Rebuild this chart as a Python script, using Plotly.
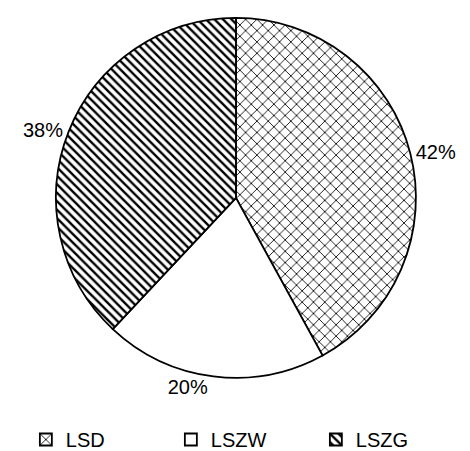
import plotly.graph_objects as go

labels = ["LSD", "LSZW", "LSZG"]
values = [42, 20, 38]
shapes = ["x", "", "\\"]

fig = go.Figure()
fig.add_trace(go.Pie(
    labels=labels, values=values, sort=False, direction="clockwise", rotation=0,
    textposition="outside", texttemplate="%{percent:.0%}",
    textfont=dict(size=20, color="black"),
    marker=dict(colors=["white"] * 3, line=dict(color="black", width=1.8),
                pattern=dict(shape=shapes, fgcolor="black", bgcolor="white",
                             size=[8, 8, 6], solidity=[0.2, 0.2, 0.4])),
    domain=dict(x=[0.1, 0.87], y=[0.18, 0.978]),
))
fig.update_layout(
    width=470, height=451, paper_bgcolor="white", plot_bgcolor="white",
    margin=dict(l=0, r=0, t=0, b=0),
    font=dict(family="Liberation Sans, Arial", size=20, color="black"),
    legend=dict(orientation="h", x=0.038, xanchor="left", y=0.0, yanchor="bottom",
                entrywidth=100, entrywidthmode="pixels", font=dict(size=20)),
)
fig.write_html("out.html")
